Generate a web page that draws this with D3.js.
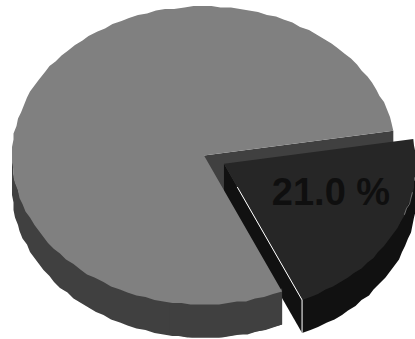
<!DOCTYPE html>
<html><head><meta charset="utf-8">
<script src="https://cdn.jsdelivr.net/npm/d3@7"></script>
<style>html,body{margin:0;padding:0;background:#fff;overflow:hidden}svg{display:block}</style>
</head><body><svg id="c" width="415" height="339"></svg>
<script>
const categories = ["Rest", "Highlighted"];
const values = [79, 21];
const labels = ["", "21.0 %"];

const W = 415, H = 339;
const svg = d3.select("#c");
const x = d3.scaleLinear().domain([-1, 1]).range([12, 396]);
const y = d3.scaleLinear().domain([-1, 1]).range([6.5, 304.5]);
const depth = 33;
const explode = 0.118;
const facet = 2.8 * Math.PI / 180;
const grid = 1.5;
const deg = Math.PI / 180;

// Wedge is placed clockwise from 80.4 degrees past north
const wedgeStart = 80.4 * deg;
const pie = d3.pie().sort(null).value(d => d)
  .startAngle(wedgeStart - 2 * Math.PI * values[0] / 100)
  .endAngle(wedgeStart + 2 * Math.PI * values[1] / 100);
const arcs = pie(values);
const wedge = arcs[1];

const line = d3.line();
const pt = (a, r, ox, oy, dz) => [
  x(ox + r * Math.sin(a)),
  y(oy - r * Math.cos(a)) + dz
];
const snap = p => [Math.round(p[0] / grid) * grid, Math.round(p[1] / grid) * grid];
function rim(a0, a1, ox, oy, dz) {
  const n = Math.max(1, Math.ceil((a1 - a0) / facet));
  return d3.range(n + 1).map(i => {
    const p = pt(a0 + (a1 - a0) * i / n, 1, ox, oy, dz);
    return (i === 0 || i === n) ? p : snap(p);
  });
}
function poly(points, fill) {
  svg.append("path").attr("d", line(points) + "Z").attr("fill", fill);
}

const mid = (wedge.startAngle + wedge.endAngle) / 2;
const ox = explode * Math.sin(mid), oy = -explode * Math.cos(mid);

const cTop = "#808080", cSide = "#404040", wTop = "#262626", wSide = "#111111";
const overlap = 3;

// main slice interior wall facing the gap (lower corner tucked under the top face)
const cA = pt(0, 0, 0, 0, 0), rA = pt(wedge.startAngle, 1, 0, 0, 0);
poly([cA, rA, [rA[0], rA[1] + depth], [cA[0], cA[1] + depth + 10]], cSide);

// main slice outer wall, front half only
const frontStart = Math.PI / 2, frontEnd = Math.PI * 1.5;
const a0 = Math.max(wedge.endAngle, frontStart);
poly(rim(a0, frontEnd, 0, 0, depth)
  .concat(rim(a0, frontEnd, 0, 0, -overlap).reverse()), cSide);

// exploded wedge walls
const wc = pt(0, 0, ox, oy, 0);
const we = pt(wedge.endAngle, 1, ox, oy, 0);
poly([wc, we, [we[0], we[1] + depth], [wc[0], wc[1] + depth]], wSide);
const wb0 = Math.max(wedge.startAngle, frontStart);
poly(rim(wb0, wedge.endAngle, ox, oy, depth)
  .concat(rim(wb0, wedge.endAngle, ox, oy, -overlap).reverse()), wSide);

// exploded wedge top
poly([wc].concat(rim(wedge.startAngle, wedge.endAngle, ox, oy, 0)), wTop);

// highlight along the cut edge, starting where the main slice stops hiding it
const hs = [wc[0] + (we[0] - wc[0]) * 0.17, wc[1] + (we[1] - wc[1]) * 0.17];
svg.append("path")
  .attr("d", line([hs, we, [we[0], we[1] + depth]]))
  .attr("fill", "none").attr("stroke", "#fff").attr("stroke-width", 1);

// faint sliver on the wedge rim
svg.append("path")
  .attr("d", line(rim(101 * deg, 110 * deg, ox, oy, 0)))
  .attr("fill", "none").attr("stroke", "#fff")
  .attr("stroke-width", 0.7).attr("stroke-opacity", 0.5);

// main slice outer wall where it overlaps the wedge wall
const a1 = wedge.endAngle;
poly(rim(a1, a1 + 0.6, 0, 0, depth)
  .concat(rim(a1, a1 + 0.6, 0, 0, -overlap).reverse()), cSide);

// main slice top, over the wedge wall
poly([cA].concat(rim(wedge.endAngle, wedge.startAngle + 2 * Math.PI, 0, 0, 0)), cTop);

// label
svg.append("text")
  .attr("x", 331).attr("y", 204.5)
  .attr("text-anchor", "middle")
  .attr("font-family", "'Liberation Sans', Arial, sans-serif")
  .attr("font-weight", "bold").attr("font-size", 38)
  .attr("fill", "#0f0f0f").text(labels[1]);
</script></body></html>
